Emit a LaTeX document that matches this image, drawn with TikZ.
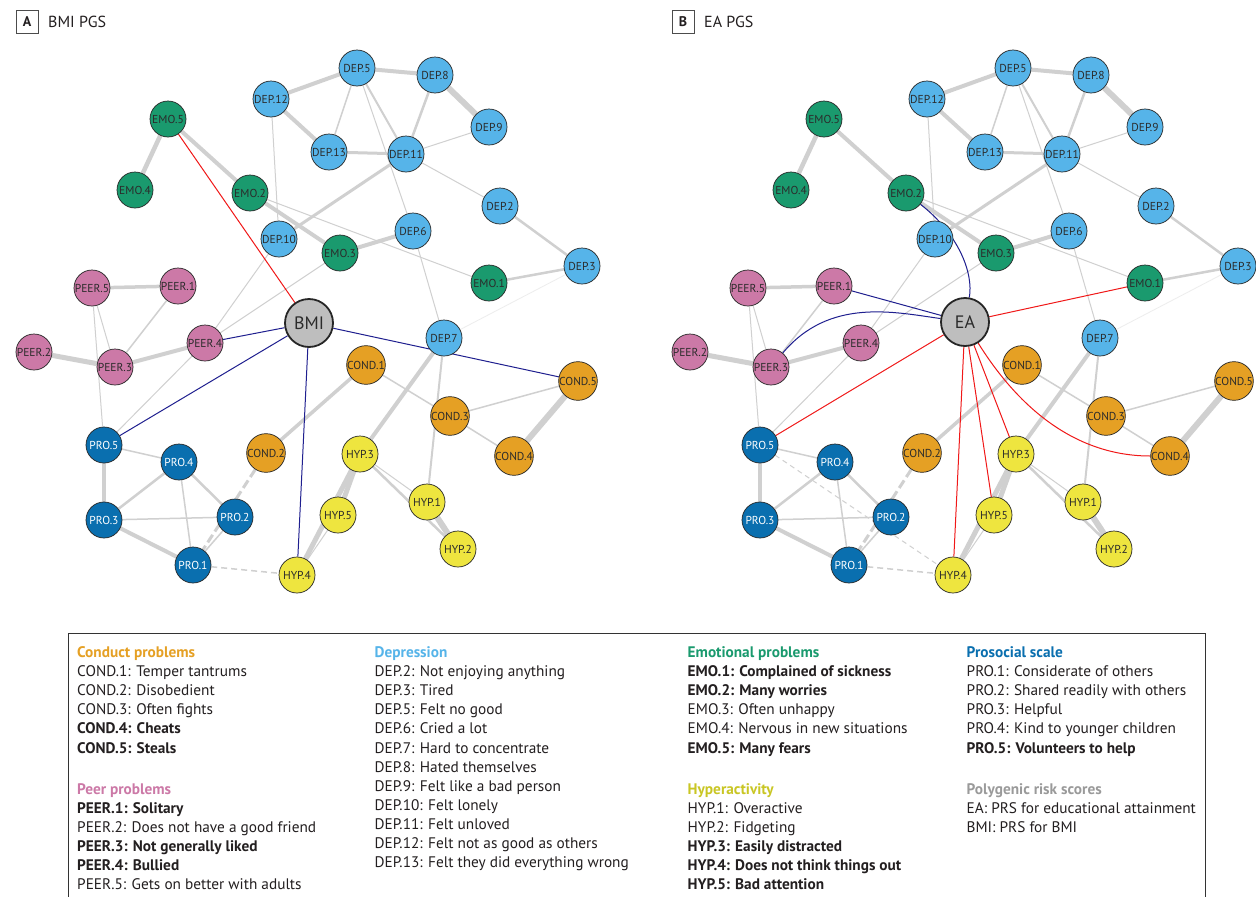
\documentclass[tikz,border=0pt]{standalone}
\usepackage{fontspec}
\setmainfont{PT Sans}
\newfontfamily\nodefont{PT Sans}
\pgfdeclarelayer{bg}
\pgfdeclarelayer{edges}
\pgfsetlayers{bg,edges,main}
\definecolor{cond}{HTML}{E5A024}
\definecolor{dep}{HTML}{56B4E9}
\definecolor{emo}{HTML}{1A9A6E}
\definecolor{peer}{HTML}{CC79A7}
\definecolor{pro}{HTML}{0A6FAF}
\definecolor{hyp}{HTML}{EEE53F}
\definecolor{prs}{HTML}{BEBEBE}
\definecolor{edgegray}{HTML}{D0D0D0}
\definecolor{navyline}{HTML}{1F1F8F}
\definecolor{redline}{HTML}{F01818}
\definecolor{txt}{HTML}{2B2B2B}
\definecolor{legtxt}{HTML}{231F20}
\definecolor{hyphead}{HTML}{C9C624}
\definecolor{prshead}{HTML}{9A9A9A}
\tikzset{
  item/.style={circle, draw=black!85, line width=0.7, minimum size=36, inner sep=0,
    font=\nodefont\fontsize{11.5}{11.5}\selectfont, text=txt},
  condn/.style={item, fill=cond},
  depn/.style={item, fill=dep},
  emon/.style={item, fill=emo},
  peern/.style={item, fill=peer},
  pron/.style={item, fill=pro, text=white},
  hypn/.style={item, fill=hyp},
  prsn/.style={circle, draw=black!85, line width=1.8, minimum size=48, inner sep=0,
    fill=prs, font=\fontsize{18}{18}\selectfont, text=txt},
  ed/.style={draw=edgegray, line width=#1},
  navyl/.style={draw=navyline, line width=1},
  redl/.style={draw=redline, line width=1},
  leg/.style={inner sep=0, text=legtxt, font=\fontsize{15.3}{15.3}\selectfont},
  title/.style={inner sep=0, text=legtxt, font=\fontsize{16}{16}\selectfont},
  tbox/.style={draw=black!70, line width=0.8, minimum width=22, minimum height=23, inner sep=0,
    font=\bfseries\fontsize{14}{14}\selectfont, text=legtxt}
}
\newcommand\network{%
  \node[depn] (DEP5) at (357,-68) {DEP.5};
  \node[depn] (DEP8) at (435,-75) {DEP.8};
  \node[depn] (DEP12) at (271,-99) {DEP.12};
  \node[depn] (DEP9) at (489,-127) {DEP.9};
  \node[emon] (EMO5) at (168,-119) {EMO.5};
  \node[depn] (DEP13) at (329,-152) {DEP.13};
  \node[depn] (DEP11) at (406,-154) {DEP.11};
  \node[emon] (EMO4) at (135,-190) {EMO.4};
  \node[emon] (EMO2) at (250,-193) {EMO.2};
  \node[depn] (DEP2) at (500,-206) {DEP.2};
  \node[depn] (DEP10) at (279,-239) {DEP.10};
  \node[depn] (DEP6) at (413,-231) {DEP.6};
  \node[emon] (EMO3) at (340,-253) {EMO.3};
  \node[depn] (DEP3) at (582,-266) {DEP.3};
  \node[emon] (EMO1) at (489,-283) {EMO.1};
  \node[peern] (PEER5) at (92,-288) {PEER.5};
  \node[peern] (PEER1) at (178,-286) {PEER.1};
  \node[peern] (PEER4) at (205,-343) {PEER.4};
  \node[peern] (PEER2) at (34,-352) {PEER.2};
  \node[peern] (PEER3) at (115,-367) {PEER.3};
  \node[depn] (DEP7) at (444,-338) {DEP.7};
  \node[condn] (COND1) at (366,-365) {COND.1};
  \node[condn] (COND5) at (578,-381) {COND.5};
  \node[condn] (COND3) at (450,-416) {COND.3};
  \node[pron] (PRO5) at (104,-445) {PRO.5};
  \node[pron] (PRO4) at (179,-462) {PRO.4};
  \node[condn] (COND2) at (266,-453) {COND.2};
  \node[hypn] (HYP3) at (360,-454) {HYP.3};
  \node[condn] (COND4) at (514,-456) {COND.4};
  \node[hypn] (HYP1) at (427,-502) {HYP.1};
  \node[hypn] (HYP5) at (338,-515) {HYP.5};
  \node[pron] (PRO3) at (104,-520) {PRO.3};
  \node[pron] (PRO2) at (235,-517) {PRO.2};
  \node[hypn] (HYP2) at (458,-549) {HYP.2};
  \node[pron] (PRO1) at (193,-565) {PRO.1};
  \node[hypn] (HYP4) at (297,-575) {HYP.4};
  \begin{pgfonlayer}{edges}
    \draw[ed=4] (DEP5)--(DEP12);
    \draw[ed=4] (DEP5)--(DEP8);
    \draw[ed=6] (DEP8)--(DEP9);
    \draw[ed=1.5] (DEP5)--(DEP13);
    \draw[ed=2] (DEP5)--(DEP11);
    \draw[ed=1] (DEP5)--(DEP6);
    \draw[ed=2.5] (DEP8)--(DEP11);
    \draw[ed=4] (DEP12)--(DEP13);
    \draw[ed=1] (DEP12)--(DEP10);
    \draw[ed=3] (DEP13)--(DEP11);
    \draw[ed=1] (DEP11)--(DEP9);
    \draw[ed=1] (DEP11)--(DEP2);
    \draw[ed=3] (DEP11)--(DEP10);
    \draw[ed=1] (DEP6)--(DEP7);
    \draw[ed=2.5] (DEP2)--(DEP3);
    \draw[ed=2.5] (EMO1)--(DEP3);
    \draw[ed=0.8, draw=black!7] (DEP3)--(DEP7);
    \draw[ed=4.5] (EMO5)--(EMO4);
    \draw[ed=4] (EMO5)--(EMO2);
    \draw[ed=4] (EMO2)--(EMO3);
    \draw[ed=1] (EMO2)--(EMO1);
    \draw[ed=4] (EMO3)--(DEP6);
    \draw[ed=1] (DEP10)--(PEER4);
    \draw[ed=1] (EMO3)--(PEER4);
    \draw[ed=3.5] (PEER5)--(PEER1);
    \draw[ed=1] (PEER5)--(PEER3);
    \draw[ed=1] (PEER5)--(PRO5);
    \draw[ed=1.5] (PEER1)--(PEER3);
    \draw[ed=5] (PEER2)--(PEER3);
    \draw[ed=4] (PEER3)--(PEER4);
    \draw[ed=1] (PEER4)--(PRO5);
    \draw[ed=4] (DEP7)--(HYP3);
    \draw[ed=2] (DEP7)--(HYP1);
    \draw[ed=1.5] (COND1)--(COND3);
    \draw[ed=3.5] (COND1)--(COND2);
    \draw[ed=1.5] (COND3)--(COND5);
    \draw[ed=1.5] (COND3)--(COND4);
    \draw[ed=6] (COND5)--(COND4);
    \draw[ed=1.5] (PRO5)--(PRO4);
    \draw[ed=4] (PRO5)--(PRO3);
    \draw[ed=2.5] (PRO4)--(PRO3);
    \draw[ed=2.5] (PRO4)--(PRO2);
    \draw[ed=1.5] (PRO4)--(PRO1);
    \draw[ed=1.5] (PRO3)--(PRO2);
    \draw[ed=4] (PRO3)--(PRO1);
    \draw[ed=1.5] (PRO2)--(PRO1);
    \draw[ed=3, dash pattern=on 9pt off 4pt] (COND2)--(PRO1);
    \draw[ed=1.5, dash pattern=on 6pt off 4pt] (PRO1)--(HYP4);
    \draw[ed=5] (HYP3)--(HYP5);
    \draw[ed=5] (HYP3)--(HYP4);
    \draw[ed=1] (HYP5)--(HYP4);
    \draw[ed=1] (HYP3)--(HYP1);
    \draw[ed=2.5] (HYP3)--(HYP2);
    \draw[ed=6] (HYP1)--(HYP2);
  \end{pgfonlayer}
}
\newcommand\legblock[4]{%
  \foreach \t [count=\i from 0] in {#4} {
    \node[leg, anchor=base west] (#1\i) at (#2,{-(#3+19.1*\i)}) {\t};
  }}
\begin{document}
\begin{tikzpicture}[x=1pt,y=1pt]
  \useasboundingbox (0,0) rectangle (1256,-897);
  \begin{pgfonlayer}{bg}
    \fill[white] (0,0) rectangle (1256,-897);
  \end{pgfonlayer}
  % panel titles
  \node[tbox] (boxA) at (27,-21.5) {A};
  \node[title, anchor=base west] (titA) at (48,-27.5) {BMI PGS};
  \node[tbox] (boxB) at (683,-21.5) {B};
  \node[title, anchor=base west] (titB) at (704,-27.5) {EA PGS};
  % panel A
  \begin{scope}[name prefix=a-]
    \network
    \node[prsn] (BMI) at (309,-323) {BMI};
    \begin{pgfonlayer}{edges}
      \draw[redl] (EMO5)--(BMI);
      \draw[navyl] (PEER4)--(BMI);
      \draw[navyl] (PRO5)--(BMI);
      \draw[navyl] (HYP4)--(BMI);
      \draw[navyl] (COND5)--(BMI);
    \end{pgfonlayer}
  \end{scope}
  % panel B
  \begin{scope}[xshift=656, name prefix=b-]
    \network
    \node[prsn] (EA) at (309,-322) {EA};
    \begin{pgfonlayer}{edges}
      \draw[ed=1, dash pattern=on 5pt off 4pt] (PRO5)--(HYP4);
      \draw[navyl] (EMO2) to[out=-38,in=80] (EA);
      \draw[navyl] (PEER3) to[out=50,in=172] (EA);
      \draw[navyl] (PEER1)--(EA);
      \draw[redl] (EA)--(EMO1);
      \draw[redl] (EA)--(PRO5);
      \draw[redl] (EA)--(HYP4);
      \draw[redl] (EA)--(HYP5);
      \draw[redl] (EA)--(HYP3);
      \draw[redl] (EA) to[out=-58,in=180] (COND4);
    \end{pgfonlayer}
  \end{scope}
  % legend
  \draw[black!80, line width=1] (68.5,-899) -- (68.5,-633) -- (1205,-633) -- (1205,-899);
  \legblock{lc}{77}{657.5}{{\textcolor{cond}{\bfseries Conduct problems}},
    COND.1: Temper tantrums, COND.2: Disobedient, COND.3: Often fights,
    {\bfseries COND.4: Cheats}, {\bfseries COND.5: Steals}}
  \legblock{lp}{77}{794}{{\textcolor{peer}{\bfseries Peer problems}},
    {\bfseries PEER.1: Solitary}, PEER.2: Does not have a good friend,
    {\bfseries PEER.3: Not generally liked}, {\bfseries PEER.4: Bullied},
    PEER.5: Gets on better with adults}
  \legblock{ld}{374.5}{657.5}{{\textcolor{dep}{\bfseries Depression}},
    DEP.2: Not enjoying anything, DEP.3: Tired, DEP.5: Felt no good,
    DEP.6: Cried a lot, DEP.7: Hard to concentrate, DEP.8: Hated themselves,
    DEP.9: Felt like a bad person, DEP.10: Felt lonely, DEP.11: Felt unloved,
    DEP.12: Felt not as good as others, DEP.13: Felt they did everything wrong}
  \legblock{le}{687.5}{657.5}{{\textcolor{emo}{\bfseries Emotional problems}},
    {\bfseries EMO.1: Complained of sickness}, {\bfseries EMO.2: Many worries},
    EMO.3: Often unhappy, EMO.4: Nervous in new situations,
    {\bfseries EMO.5: Many fears}}
  \legblock{lh}{687.5}{794}{{\textcolor{hyphead}{\bfseries Hyperactivity}},
    HYP.1: Overactive, HYP.2: Fidgeting, {\bfseries HYP.3: Easily distracted},
    {\bfseries HYP.4: Does not think things out}, {\bfseries HYP.5: Bad attention}}
  \legblock{lr}{966.5}{657.5}{{\textcolor{pro}{\bfseries Prosocial scale}},
    PRO.1: Considerate of others, PRO.2: Shared readily with others,
    PRO.3: Helpful, PRO.4: Kind to younger children,
    {\bfseries PRO.5: Volunteers to help}}
  \legblock{lg}{966.5}{794}{{\textcolor{prshead}{\bfseries Polygenic risk scores}},
    EA: PRS for educational attainment, BMI: PRS for BMI}
\end{tikzpicture}
\end{document}
